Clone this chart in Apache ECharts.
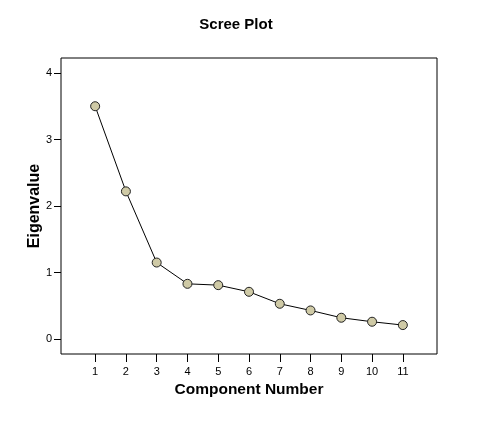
<!DOCTYPE html>
<html>
<head>
<meta charset="utf-8">
<script src="https://cdn.jsdelivr.net/npm/echarts@6/dist/echarts.min.js"></script>
<style>
html,body{margin:0;padding:0;background:#fff;}
#chart{width:489px;height:421px;}
</style>
</head>
<body>
<div id="chart"></div>
<script>
const components = [1, 2, 3, 4, 5, 6, 7, 8, 9, 10, 11];
const eigenvalues = [3.50, 2.22, 1.15, 0.83, 0.81, 0.71, 0.53, 0.43, 0.32, 0.26, 0.21];
const xTicks = [1, 2, 3, 4, 5, 6, 7, 8, 9, 10, 11];
const yTicks = [0, 1, 2, 3, 4];

const FONT = 'Arial, "Liberation Sans", sans-serif';
const chart = echarts.init(document.getElementById('chart'), null, {renderer: 'canvas'});
chart.setOption({
  animation: false,
  backgroundColor: '#fff',
  title: {
    text: 'Scree Plot',
    left: 231,
    textAlign: 'center',
    top: 12,
    textStyle: {fontFamily: FONT, fontSize: 15, fontWeight: 'bold', color: '#000'}
  },
  grid: {
    left: 61, top: 58, width: 376, height: 296,
    show: true, borderColor: '#000', borderWidth: 1, backgroundColor: '#fff'
  },
  xAxis: {
    type: 'value',
    min: -0.11, max: 12.11,
    axisLine: {show: false, onZero: false},
    splitLine: {show: false},
    axisTick: {show: true, length: 8, lineStyle: {color: '#000'}, customValues: xTicks},
    axisLabel: {customValues: xTicks, margin: 12, fontFamily: FONT, fontSize: 11, color: '#000'},
    name: 'Component Number',
    nameLocation: 'middle',
    nameGap: 28,
    nameMoveOverlap: false,
    nameTextStyle: {fontFamily: FONT, fontSize: 15.5, fontWeight: 'bold', color: '#000'}
  },
  yAxis: {
    type: 'value',
    min: -0.225, max: 4.225,
    axisLine: {show: false, onZero: false},
    splitLine: {show: false},
    axisTick: {show: true, length: 7, lineStyle: {color: '#000'}, customValues: yTicks},
    axisLabel: {customValues: yTicks, margin: 9, fontFamily: FONT, fontSize: 11, color: '#000'},
    name: 'Eigenvalue',
    nameLocation: 'middle',
    nameGap: 18,
    nameRotate: 90,
    nameMoveOverlap: false,
    nameTextStyle: {fontFamily: FONT, fontSize: 16, fontWeight: 'bold', color: '#000'}
  },
  series: [{
    type: 'line',
    data: components.map((c, i) => [c, eigenvalues[i]]),
    symbol: 'circle',
    symbolSize: 9,
    lineStyle: {color: '#000', width: 1},
    itemStyle: {color: '#cfcaa6', borderColor: '#222', borderWidth: 1}
  }]
});
</script>
</body>
</html>
